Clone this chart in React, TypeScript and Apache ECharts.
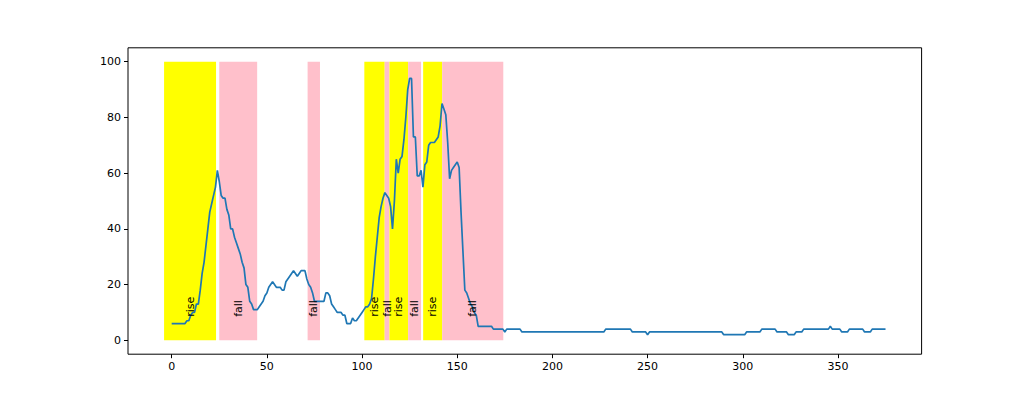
import React, { useEffect, useRef } from "react";
import * as echarts from "echarts";

const values: number[] = [
  6, 6, 6, 6, 6, 6, 6, 6, 7, 7, 9, 10, 10, 13, 13, 18, 24, 28, 34, 40,
  46, 49, 52, 55, 61, 57, 52, 51, 51, 47, 45, 40, 40, 37, 35, 33, 31, 28, 26, 20,
  19, 14, 13, 11, 11, 11, 12, 13, 14, 16, 17, 19, 20, 21, 20, 19, 19, 19, 18, 18,
  21, 22, 23, 24, 25, 24, 23, 24, 25, 25, 25, 22, 20, 19, 17, 14, 14, 14, 14, 14,
  14, 17, 17, 16, 13, 12, 11, 10, 10, 10, 9, 9, 6, 6, 6, 8, 7, 7, 8, 9,
  10, 11, 12, 12, 13, 15, 22, 30, 37, 44, 48, 51, 53, 52, 51, 48, 40, 50, 65, 60,
  65, 66, 72, 80, 90, 94, 94, 73, 73, 59, 59, 61, 55, 63, 64, 70, 71, 71, 71, 72,
  73, 77, 85, 83, 81, 71, 58, 61, 62, 63, 64, 62, 46, 32, 18, 17, 15, 13, 12, 10,
  9, 5, 5, 5, 5, 5, 5, 5, 5, 4, 4, 4, 4, 4, 4, 3, 4, 4, 4, 4,
  4, 4, 4, 4, 3, 3, 3, 3, 3, 3, 3, 3, 3, 3, 3, 3, 3, 3, 3, 3,
  3, 3, 3, 3, 3, 3, 3, 3, 3, 3, 3, 3, 3, 3, 3, 3, 3, 3, 3, 3,
  3, 3, 3, 3, 3, 3, 3, 3, 4, 4, 4, 4, 4, 4, 4, 4, 4, 4, 4, 4,
  4, 4, 3, 3, 3, 3, 3, 3, 3, 3, 2, 3, 3, 3, 3, 3, 3, 3, 3, 3,
  3, 3, 3, 3, 3, 3, 3, 3, 3, 3, 3, 3, 3, 3, 3, 3, 3, 3, 3, 3,
  3, 3, 3, 3, 3, 3, 3, 3, 3, 3, 2, 2, 2, 2, 2, 2, 2, 2, 2, 2,
  2, 2, 3, 3, 3, 3, 3, 3, 3, 3, 4, 4, 4, 4, 4, 4, 4, 4, 3, 3,
  3, 3, 3, 3, 2, 2, 2, 2, 3, 3, 3, 3, 4, 4, 4, 4, 4, 4, 4, 4,
  4, 4, 4, 4, 4, 4, 5, 4, 4, 4, 4, 4, 3, 3, 3, 3, 4, 4, 4, 4,
  4, 4, 4, 4, 3, 3, 3, 3, 4, 4, 4, 4, 4, 4, 4, 4,
];

const spanStarts: number[] = [-4, 25, 71.4, 101.2, 111.9, 114.4, 124.2, 132.1, 142.1];
const spanEnds: number[] = [23.3, 44.9, 77.9, 111.9, 114.4, 124.2, 131.0, 142.1, 174.2];
const spanKinds: string[] = ["rise", "fall", "fall", "rise", "fall", "rise", "fall", "rise", "fall"];

const xTicks: number[] = [0, 50, 100, 150, 200, 250, 300, 350];
const yTicks: number[] = [0, 20, 40, 60, 80, 100];

const SPAN_COLORS: Record<string, string> = { rise: "#ffff00", fall: "#ffc0cb" };
const FONT = "DejaVu Sans";

export default function App() {
  const ref = useRef<HTMLDivElement>(null);

  useEffect(() => {
    document.body.style.margin = "0";
    if (!ref.current) return;
    const chart = echarts.init(ref.current, null, { renderer: "svg" });

    const lineData = values.map((v, i) => [i, v]);
    const spanData = spanStarts.map((s, i) => [s, spanEnds[i]]);
    const labelData = spanStarts.map((s, i) => [(s + spanEnds[i]) / 2, 8.4]);

    const axisCommon = {
      type: "value" as const,
      splitLine: { show: false },
      axisLine: { show: false, onZero: false },
    };

    chart.setOption({
      animation: false,
      grid: {
        left: 128,
        right: 102.4,
        top: 47.8,
        bottom: 43.8,
        show: true,
        borderColor: "#000",
        borderWidth: 1,
        backgroundColor: "transparent",
      },
      xAxis: {
        ...axisCommon,
        min: -22.95,
        max: 393.95,
        axisTick: { show: true, length: 4, lineStyle: { color: "#000" }, customValues: xTicks },
        axisLabel: { customValues: xTicks, color: "#000", fontSize: 11, fontFamily: FONT, margin: 7 },
      },
      yAxis: {
        ...axisCommon,
        min: -5,
        max: 105,
        axisTick: { show: true, length: 4, lineStyle: { color: "#000" }, customValues: yTicks },
        axisLabel: { customValues: yTicks, color: "#000", fontSize: 11, fontFamily: FONT, margin: 7 },
      },
      series: [
        {
          type: "custom",
          z: 1,
          clip: false,
          data: spanData,
          renderItem: (params: any, api: any) => {
            const s = api.value(0);
            const e = api.value(1);
            const p0 = api.coord([s, 100]);
            const p1 = api.coord([e, 0]);
            return {
              type: "rect",
              shape: { x: p0[0], y: p0[1], width: p1[0] - p0[0], height: p1[1] - p0[1] },
              style: { fill: SPAN_COLORS[spanKinds[params.dataIndex]] },
            };
          },
        },
        {
          type: "line",
          z: 2,
          data: lineData,
          showSymbol: false,
          symbol: "none",
          lineStyle: { color: "#1f77b4", width: 1.7 },
        },
        {
          type: "custom",
          z: 3,
          clip: false,
          data: labelData,
          renderItem: (params: any, api: any) => {
            const p = api.coord([api.value(0), api.value(1)]);
            return {
              type: "text",
              x: p[0],
              y: p[1],
              rotation: Math.PI / 2,
              style: {
                text: spanKinds[params.dataIndex],
                fill: "#000",
                fontSize: 11,
                fontFamily: FONT,
                align: "left",
                verticalAlign: "middle",
              },
            };
          },
        },
      ],
    });

    return () => {
      chart.dispose();
    };
  }, []);

  return <div ref={ref} style={{ width: 1024, height: 398 }} />;
}
